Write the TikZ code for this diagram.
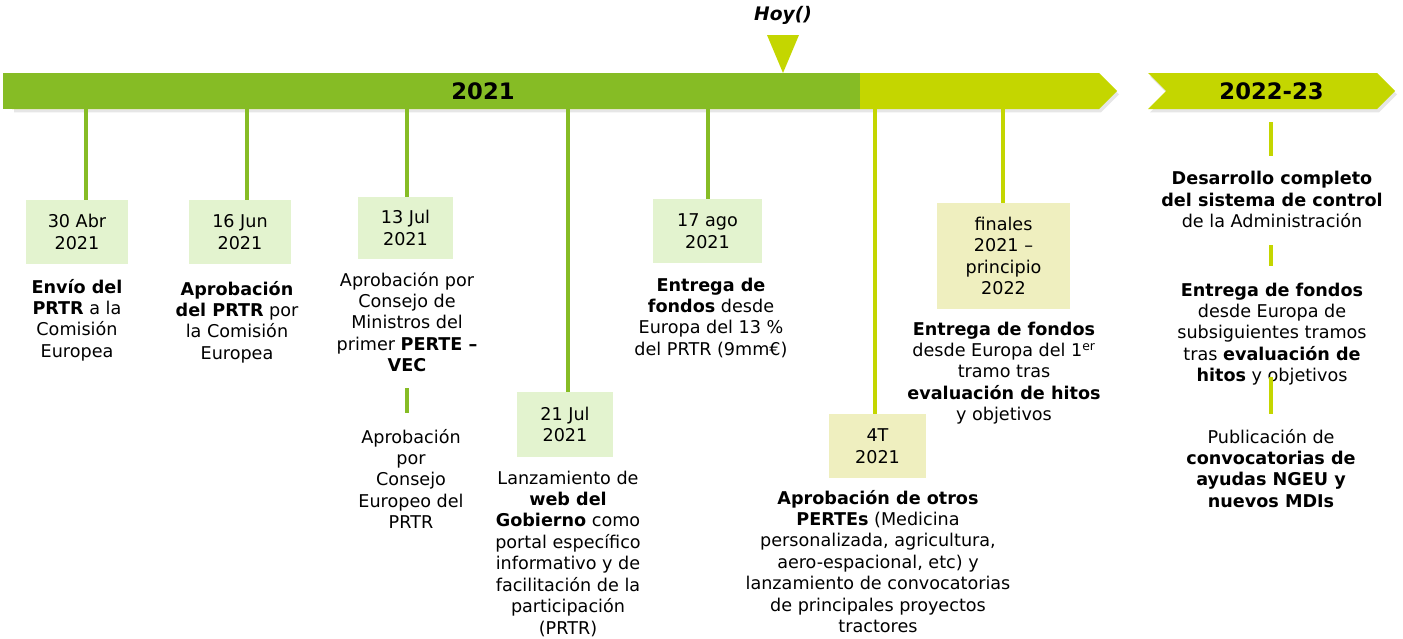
\documentclass[tikz,border=0pt]{standalone}
\usepackage{fontspec}
\setmainfont{DejaVu Sans}
\usetikzlibrary{positioning}
\usetikzlibrary{shapes.symbols,shadows}
\definecolor{hitogreen}{RGB}{134,188,37}
\definecolor{hitolime}{RGB}{196,214,0}
\definecolor{boxgreen}{RGB}{227,243,207}
\definecolor{boxyellow}{RGB}{239,239,191}
\tikzset{
    % Define text font
    txtfont/.style={font=\fontsize{13.2}{16.1}\selectfont},
    % Define date boxes
    datebox/.style={
           txtfont,
           fill=boxgreen,
           inner sep=0pt,
           align=center,},
    latebox/.style={datebox, fill=boxyellow},
    % Define event texts (placed at the baseline of their last line)
    evtext/.style={
           txtfont,
           align=center,
           inner sep=0pt,
           anchor=base,},
    % Define ticks
    tick/.style={line width=3pt, draw=hitogreen},
    ltick/.style={line width=3pt, draw=hitolime},
    yearfont/.style={font=\fontsize{17}{20}\selectfont\bfseries},
}

\begin{document}
\begin{tikzpicture}[x=0.75pt,y=-0.75pt]

\useasboundingbox (0,0) rectangle (1403,639);

%%%%%%%%%%%%%%%%%%%%%%%%%%%%%%%%%

% time bars
\node [signal, signal to=east, fill=hitolime, inner sep=0pt,
       minimum width=828.75pt, minimum height=27pt,
       drop shadow={opacity=0.2, shadow xshift=1.5pt, shadow yshift=-2.5pt}]
      (arrow2021) at (555.5,91) {};
\node [fill=hitogreen, inner sep=0pt, minimum width=642.75pt, minimum height=27pt]
      (bar2021) at (431.5,91) {};
\node [yearfont] (y2021) at (483,91) {2021};
\node [signal, signal from=west, signal to=east, fill=hitolime, inner sep=0pt,
       minimum width=185.25pt, minimum height=27pt, yearfont,
       drop shadow={opacity=0.2, shadow xshift=1.5pt, shadow yshift=-2.5pt}]
      (chev) at (1271.5,91) {2022-23};

% today marker
\node [font=\fontsize{14}{16}\selectfont\bfseries\itshape] (hoy) at (783,15) {Hoy()};
\fill [hitolime] (767,35) -- (799,35) -- (783,73) -- cycle;

% date boxes
\node [datebox, minimum width=76.5pt, minimum height=48pt]  (d1) at (77,232)    {30 Abr\\2021};
\node [datebox, minimum width=76.5pt, minimum height=48pt]  (d2) at (240,232)   {16 Jun\\2021};
\node [datebox, minimum width=71.25pt, minimum height=46.5pt] (d3) at (405.5,228) {13 Jul\\2021};
\node [datebox, minimum width=72pt, minimum height=48.75pt] (d4) at (565,424.5) {21 Jul\\2021};
\node [datebox, minimum width=81.75pt, minimum height=48pt] (d5) at (707.5,231) {17 ago\\2021};
\node [latebox, minimum width=72.75pt, minimum height=48pt] (d6) at (877.5,446) {4T\\2021};
\node [latebox, minimum width=99.75pt, minimum height=79.5pt] (d7) at (1003.5,256)
      {finales\\2021 –\\principio\\2022};

% ticks
\coordinate (t1) at (86,0);
\coordinate (t2) at (247,0);
\coordinate (t3) at (407,0);
\coordinate (t4) at (568,0);
\coordinate (t5) at (708,0);
\coordinate (t6) at (875,0);
\coordinate (t7) at (1003,0);
\draw [tick] (t1 |- bar2021.south) -- (t1 |- d1.north);
\draw [tick] (t2 |- bar2021.south) -- (t2 |- d2.north);
\draw [tick] (t3 |- bar2021.south) -- (t3 |- d3.north);
\draw [tick] (t4 |- bar2021.south) -- (t4 |- d4.north);
\draw [tick] (t5 |- bar2021.south) -- (t5 |- d5.north);
\draw [ltick] (t6 |- arrow2021.south) -- (t6 |- d6.north);
\draw [ltick] (t7 |- arrow2021.south) -- (t7 |- d7.north);

% event texts 2021
\node [evtext] (e1) at (77,357.4) {\textbf{Envío del}\\\textbf{PRTR} a la\\Comisión\\Europea};
\node [evtext] (e2) at (237,359.4) {\textbf{Aprobación}\\\textbf{del PRTR} por\\la Comisión\\Europea};
\node [evtext] (e3) at (407,371.9) {Aprobación por\\Consejo de\\Ministros del\\primer \textbf{PERTE –}\\\textbf{VEC}};
\node [evtext] (e3b) at (411,528.9) {Aprobación\\por\\Consejo\\Europeo del\\PRTR};
\node [evtext] (e4) at (568,634.3) {Lanzamiento de\\\textbf{web del}\\\textbf{Gobierno} como\\portal específico\\informativo y de\\facilitación de la\\participación\\(PRTR)};
\node [evtext] (e5) at (711,355.4) {\textbf{Entrega de}\\\textbf{fondos} desde\\Europa del 13 \%\\del PRTR (9mm€)};
\node [evtext] (e6) at (878,632.8) {\textbf{Aprobación de otros}\\\textbf{PERTEs} (Medicina\\personalizada, agricultura,\\aero-espacional, etc) y\\lanzamiento de convocatorias\\de principales proyectos\\tractores};
\node [evtext] (e7) at (1004,420.9) {\textbf{Entrega de fondos}\\desde Europa del 1\textsuperscript{er}\\tramo tras\\\textbf{evaluación de hitos}\\y objetivos};
\draw [tick, shorten <=12pt, shorten >=11.6pt] (e3.south -| t3) -- (e3b.north -| t3);

% event texts 2022-23
\node [evtext] (r1) at (1272,227.9) {\textbf{Desarrollo completo}\\\textbf{del sistema de control}\\de la Administración};
\node [evtext] (r2) at (1272,381.9) {\textbf{Entrega de fondos}\\desde Europa de\\subsiguientes tramos\\tras \textbf{evaluación de}\\\textbf{hitos} y objetivos};
\node [evtext] (r3) at (1271,507.4) {Publicación de\\\textbf{convocatorias de}\\\textbf{ayudas NGEU y}\\\textbf{nuevos MDIs}};
\coordinate (t8) at (1271,0);
\draw [ltick, shorten <=9.75pt, shorten >=11.25pt] (chev.south -| t8) -- (r1.north -| t8);
\draw [ltick, shorten <=12.75pt, shorten >=12pt] (r1.south -| t8) -- (r2.north -| t8);
\draw [ltick, shorten <=-6.75pt, shorten >=11.25pt] (r2.south -| t8) -- (r3.north -| t8);

\end{tikzpicture}
\end{document}
